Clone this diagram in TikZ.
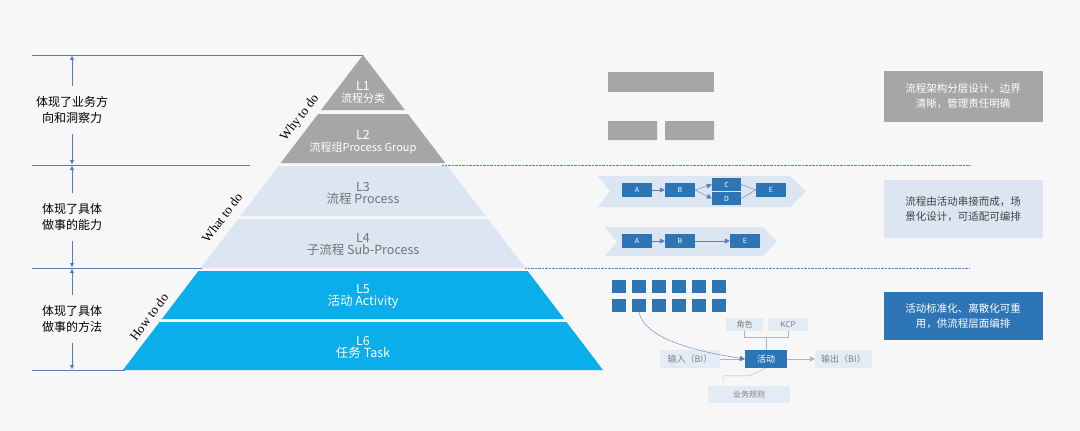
\documentclass[tikz,border=0pt]{standalone}
\usepackage{fontspec}
\setmainfont{Noto Sans CJK SC}
\newfontfamily\serifen{Liberation Serif}
\usetikzlibrary{arrows.meta}
\definecolor{bggray}{HTML}{F7F7F8}
\definecolor{lvgray}{HTML}{A6A6A6}
\definecolor{lvlight}{HTML}{DCE6F2}
\definecolor{lvblue}{HTML}{0AAEEB}
\definecolor{dkblue}{HTML}{2E75B6}
\definecolor{rulec}{HTML}{5A7DBE}
\tikzset{
  box/.style={fill=dkblue,text=white,inner sep=0pt,font=\fontsize{7}{8}\selectfont},
  tag/.style={fill=lvlight!80,text=gray,inner sep=0pt,font=\fontsize{8}{9}\selectfont},
  note/.style={inner sep=0pt,align=center,font=\fontsize{12}{16}\selectfont},
  rnote/.style={inner sep=0pt,align=center,font=\fontsize{10.5}{15}\selectfont,minimum width=159pt},
  why/.style={font=\serifen\fontsize{13}{13}\selectfont,rotate=53},
  lvtext/.style={align=center,font=\fontsize{12.5}{14}\selectfont},
  flow/.style={-{Triangle[length=5pt,width=5pt]},rulec,thin}
}
\begin{document}
\begin{tikzpicture}[x=1pt,y=-1pt]
\fill[bggray] (0,0) rectangle (1080,431);
% pyramid layers
\def\hw#1{(#1-55)*0.762}
\fill[lvgray] (363,55) -- ({363-\hw{110}},110) -- ({363+\hw{110}},110) -- cycle;
\fill[lvgray] ({363-\hw{114}},114) -- ({363-\hw{163}},163) -- ({363+\hw{163}},163) -- ({363+\hw{114}},114) -- cycle;
\fill[lvlight] ({363-\hw{166}},166) -- ({363-\hw{216}},216) -- ({363+\hw{216}},216) -- ({363+\hw{166}},166) -- cycle;
\fill[lvlight] ({363-\hw{219}},219) -- ({363-\hw{268}},268) -- ({363+\hw{268}},268) -- ({363+\hw{219}},219) -- cycle;
\fill[lvblue] ({363-\hw{271}},271) -- ({363-\hw{319}},319) -- ({363+\hw{319}},319) -- ({363+\hw{271}},271) -- cycle;
\fill[lvblue] ({363-\hw{322}},322) -- ({363-\hw{370}},370) -- ({363+\hw{370}},370) -- ({363+\hw{322}},322) -- cycle;
\node[lvtext,text=white] (l1) at (363,92) {L1\\[-2pt]\fontsize{11}{12}\selectfont 流程分类};
\node[lvtext,text=white] (l2) at (363,142) {L2\\[-2pt]\fontsize{11}{12}\selectfont 流程组Process Group};
\node[lvtext,text=gray!90!black] (l3) at (363,193) {L3\\[-2pt]流程 Process};
\node[lvtext,text=gray!90!black] (l4) at (363,244) {L4\\[-2pt]子流程 Sub-Process};
\node[lvtext,text=white] (l5) at (363,296) {L5\\[-2pt]活动 Activity};
\node[lvtext,text=white] (l6) at (363,347) {L6\\[-2pt]任务 Task};
\node[why] (why) at (300,118) {Why to do};
\node[why] (what) at (222,218) {What to do};
\node[why] (how) at (149,317) {How to do};
% rules and brackets
\draw[rulec] (32,55) -- (363,55) (32,165) -- (250,165) (32,268) -- (202,268) (32,370) -- (125,370);
\draw[rulec,densely dotted] (442,165) -- (970,165) (525,268) -- (970,268);
\node[note] (n1) at (72,110) {体现了业务方\\向和洞察力};
\node[note] (n2) at (72,217) {体现了具体\\做事的能力};
\node[note] (n3) at (72,319) {体现了具体\\做事的方法};
\coordinate (t1) at (72,56); \coordinate (b1) at (72,164);
\coordinate (t2) at (72,166); \coordinate (b2) at (72,267);
\coordinate (t3) at (72,269); \coordinate (b3) at (72,369);
\foreach \i in {1,2,3}{
  \draw[rulec,-{Triangle[length=4pt,width=4pt]}] (n\i) ++(0,-24) -- (t\i);
  \draw[rulec,-{Triangle[length=4pt,width=4pt]}] (n\i) ++(0,24) -- (b\i);
}
% right column notes
\node[rnote,fill=lvgray,text=white,minimum height=51pt] (r1) at (963,96) {流程架构分层设计，边界\\清晰，管理责任明确};
\node[rnote,fill=lvlight,text=black!75,minimum height=58pt] (r2) at (963,209) {流程由活动串接而成，场\\景化设计，可适配可编排};
\node[rnote,fill=dkblue,text=white,minimum height=48pt] (r3) at (963,316) {活动标准化、离散化可重\\用，供流程层面编排};
% L1/L2 bars
\fill[lvgray] (608,72) rectangle (714,92);
\fill[lvgray] (608,121) rectangle (657,140) (665,121) rectangle (714,140);
% chevrons
\fill[lvlight] (598,176) -- (790,176) -- (806,191.5) -- (790,207) -- (598,207) -- (610,191.5) -- cycle;
\fill[lvlight] (605,227) -- (763,227) -- (777,241.5) -- (763,256) -- (605,256) -- (617,241.5) -- cycle;
\node[box,minimum width=30pt,minimum height=14pt] (a1) at (637,190) {A};
\node[box,minimum width=30pt,minimum height=14pt] (b1) at (680,190) {B};
\node[box,minimum width=29pt,minimum height=13pt] (c1) at (726.5,184.5) {C};
\node[box,minimum width=29pt,minimum height=13pt] (d1) at (726.5,198.5) {D};
\node[box,minimum width=30pt,minimum height=14pt] (e1) at (771,190) {E};
\draw[flow] (a1) -- (b1);
\draw[flow] (b1.east) -- (c1.west);
\draw[flow] (b1.east) -- (d1.west);
\draw[rulec] (c1.east) -- (e1.west) (d1.east) -- (e1.west);
\node[box,minimum width=30pt,minimum height=14pt] (a2) at (637,241) {A};
\node[box,minimum width=30pt,minimum height=14pt] (b2) at (680,241) {B};
\node[box,minimum width=30pt,minimum height=14pt] (e2) at (745,241) {E};
\draw[flow] (a2) -- (b2);
\draw[flow] (b2) -- (e2);
% activity grid
\foreach \c in {0,...,5}
  \foreach \r in {0,1}
    \node[box,minimum width=14pt,minimum height=13pt] (s\c\r) at (619+\c*20,286.5+\r*19) {};
\node[box,minimum width=42pt,minimum height=18pt,font=\fontsize{9}{10}\selectfont] (act) at (766,359) {活动};
\node[tag,minimum width=37pt,minimum height=13pt] (role) at (744.5,324.5) {角色};
\node[tag,minimum width=40pt,minimum height=13pt] (kcp) at (788,324.5) {KCP};
\node[tag,minimum width=60pt,minimum height=18pt,font=\fontsize{9}{10}\selectfont] (in) at (690,359) {输入（BI）};
\node[tag,minimum width=57pt,minimum height=18pt,font=\fontsize{9}{10}\selectfont] (out) at (843.5,359) {输出（BI）};
\node[tag,minimum width=82pt,minimum height=17pt] (rule) at (749,394.5) {业务规则};
\draw[gray!60] (role.south) -- ++(0,6) -| (kcp.south) (766,337) -- (act.north);
\draw[gray!60] (rule.north) ++(-26,0) |- ++(26,-10) -- (act.south);
\draw[gray!60,-{Triangle[length=5pt,width=5pt]}] (in) -- (act);
\draw[gray!60,-{Triangle[length=5pt,width=5pt]}] (act) -- (out);
\draw[flow] (s11.south) .. controls (645,340) and (700,352) .. (act.west);
\end{tikzpicture}
\end{document}
